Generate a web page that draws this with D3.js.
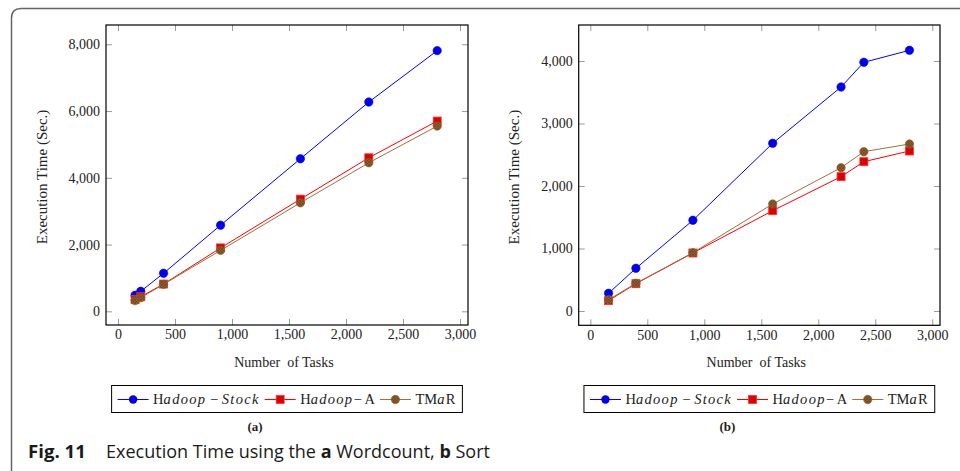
<!DOCTYPE html>
<html>
<head>
<meta charset="utf-8">
<script src="https://cdn.jsdelivr.net/npm/d3@7"></script>
<style>
  html, body { margin: 0; padding: 0; background: #fff; }
  svg { display: block; }
</style>
</head>
<body>
<svg id="chart" width="960" height="471"></svg>
<script>
// ---------------- DATA ----------------
const tickValuesX = [0, 500, 1000, 1500, 2000, 2500, 3000];
const tickValuesYA = [0, 2000, 4000, 6000, 8000];
const tickValuesYB = [0, 1000, 2000, 3000, 4000];

// (a) Wordcount
const tasksA = [150, 200, 400, 900, 1600, 2200, 2800];
const stockA = [480, 600, 1140, 2580, 4570, 6270, 7810];
const hadoopA_A = [350, 437, 817, 1900, 3360, 4600, 5700];
const tmarA = [320, 407, 808, 1826, 3250, 4450, 5550];

// (b) Sort
const tasksB = [160, 400, 900, 1600, 2200, 2400, 2800];
const stockB = [283, 683, 1451, 2683, 3584, 3979, 4171];
const hadoopA_B = [165, 437, 928, 1605, 2149, 2389, 2560];
const tmarB = [181, 443, 933, 1712, 2293, 2549, 2672];

const seriesNames = ["Hadoop-Stock", "Hadoop-A", "TMaR"];
const xLabel = "Number  of Tasks";
const yLabel = "Execution Time (Sec.)";
const panelLabels = ["(a)", "(b)"];

// ---------------- STYLE ----------------
const colors = { stock: "#0000ff", ha: "#ff0000", tmar: "#a0703c" };
const serif = "'Liberation Serif', 'DejaVu Serif', serif";

const svg = d3.select("#chart");
const defs = svg.append("defs");
const pat = defs.append("pattern").attr("id", "hatch").attr("patternUnits", "userSpaceOnUse")
  .attr("width", 3).attr("height", 3);
pat.append("rect").attr("width", 3).attr("height", 3).attr("fill", "#8e5e2e");
pat.append("path").attr("d", "M0,0L3,3M3,0L0,3").attr("stroke", "#6b4018").attr("stroke-width", 0.6);

// outer figure frame (rounded top-left corner)
svg.append("path")
  .attr("d", "M11.5,471 L11.5,18 Q11.5,8.5 21,8.5 L960,8.5")
  .attr("fill", "none").attr("stroke", "#666").attr("stroke-width", 1.5);

function drawPanel(cfg) {
  const { left, right, top, bottom, xDomain, yDomain, yTicks, tasks, stock, ha, tmar, label } = cfg;
  const x = d3.scaleLinear().domain(xDomain).range([left, right]);
  const y = d3.scaleLinear().domain(yDomain).range([bottom, top]);
  const g = svg.append("g");
  const fmt = d3.format(",");

  const styleAxis = (sel) => {
    sel.select(".domain").remove();
    sel.selectAll(".tick line").attr("stroke", "#9a9a9a").attr("stroke-width", 1);
    sel.selectAll(".tick text").attr("font-family", serif).attr("font-size", 14).attr("fill", "#222");
  };

  g.append("g").attr("transform", `translate(0,${bottom})`)
    .call(d3.axisBottom(x).tickValues(tickValuesX).tickFormat(fmt).tickSizeInner(-6).tickSizeOuter(0).tickPadding(4.5))
    .call(styleAxis);
  g.append("g").attr("transform", `translate(0,${top})`)
    .call(d3.axisTop(x).tickValues(tickValuesX).tickFormat("").tickSizeInner(-6).tickSizeOuter(0))
    .call(styleAxis);
  g.append("g").attr("transform", `translate(${left},0)`)
    .call(d3.axisLeft(y).tickValues(yTicks).tickFormat(fmt).tickSizeInner(-6).tickSizeOuter(0).tickPadding(6))
    .call(styleAxis);
  g.append("g").attr("transform", `translate(${right},0)`)
    .call(d3.axisRight(y).tickValues(yTicks).tickFormat("").tickSizeInner(-6).tickSizeOuter(0))
    .call(styleAxis);

  g.append("rect").attr("x", left).attr("y", top).attr("width", right - left).attr("height", bottom - top)
    .attr("fill", "none").attr("stroke", "#000").attr("stroke-width", 1.2);

  const line = d3.line().x(d => x(d[0])).y(d => y(d[1]));
  const mk = (vals) => tasks.map((t, i) => [t, vals[i]]);

  // Hadoop-Stock
  g.append("path").datum(mk(stock)).attr("d", line).attr("fill", "none").attr("stroke", colors.stock).attr("stroke-width", 1);
  g.selectAll(null).data(mk(stock)).enter().append("circle")
    .attr("cx", d => x(d[0])).attr("cy", d => y(d[1])).attr("r", 4.2).attr("fill", "#0000ee").attr("stroke", "#0000ff").attr("stroke-width", 0.6);
  // Hadoop-A
  g.append("path").datum(mk(ha)).attr("d", line).attr("fill", "none").attr("stroke", colors.ha).attr("stroke-width", 1);
  g.selectAll(null).data(mk(ha)).enter().append("rect")
    .attr("x", d => x(d[0]) - 4).attr("y", d => y(d[1]) - 4).attr("width", 8).attr("height", 8)
    .attr("fill", "#dd0000").attr("stroke", "#ff3333").attr("stroke-width", 0.8);
  // TMaR
  g.append("path").datum(mk(tmar)).attr("d", line).attr("fill", "none").attr("stroke", colors.tmar).attr("stroke-width", 1);
  g.selectAll(null).data(mk(tmar)).enter().append("circle")
    .attr("cx", d => x(d[0])).attr("cy", d => y(d[1])).attr("r", 4.2).attr("fill", "url(#hatch)").attr("stroke", "#8e5e2e").attr("stroke-width", 0.6);

  const cx = (left + right) / 2;
  // axis labels
  g.append("text").attr("x", cx - 3).attr("y", 367.3).attr("text-anchor", "middle")
    .attr("font-family", serif).attr("font-size", 14).attr("fill", "#222")
    .attr("xml:space", "preserve").style("white-space", "pre").text(xLabel);
  g.append("text").attr("transform", `translate(${left - 64.5},${(top + bottom) / 2 + 2}) rotate(-90)`)
    .attr("text-anchor", "middle").attr("dy", "0.35em")
    .attr("font-family", serif).attr("font-size", 15).attr("fill", "#222").text(yLabel);

  // legend
  const lg = g.append("g");
  const items = [
    { color: colors.stock, marker: "circle", parts: [["H", false], ["adoop", true], [" \u2212 ", false], ["Stock", true]] },
    { color: colors.ha, marker: "square", parts: [["H", false], ["adoop", true], ["\u2212 A", false]] },
    { color: colors.tmar, marker: "brown", parts: [["TM", false], ["a", true], ["R", false]] }
  ];
  const legY = 399.5;
  let cursor = 0;
  items.forEach((it) => {
    const ig = lg.append("g").attr("transform", `translate(${cursor},0)`);
    ig.append("line").attr("x1", 0).attr("x2", 31).attr("y1", legY).attr("y2", legY)
      .attr("stroke", it.color).attr("stroke-width", 1);
    if (it.marker === "circle") {
      ig.append("circle").attr("cx", 15.5).attr("cy", legY).attr("r", 4.2).attr("fill", "#0000ee");
    } else if (it.marker === "square") {
      ig.append("rect").attr("x", 11.5).attr("y", legY - 4).attr("width", 8).attr("height", 8)
        .attr("fill", "#dd0000").attr("stroke", "#ff3333").attr("stroke-width", 0.8);
    } else {
      ig.append("circle").attr("cx", 15.5).attr("cy", legY).attr("r", 4.2).attr("fill", "url(#hatch)")
        .attr("stroke", "#8e5e2e").attr("stroke-width", 0.6);
    }
    const t = ig.append("text").attr("x", 35.5).attr("y", legY + 4).attr("font-family", serif)
      .attr("font-size", 14.5).attr("fill", "#222").attr("xml:space", "preserve").style("white-space", "pre");
    it.parts.forEach(([s, ital]) => {
      t.append("tspan").attr("font-style", ital ? "italic" : "normal")
        .attr("letter-spacing", ital ? 1.3 : 0).text(s);
    });
    const w = t.node().getComputedTextLength();
    cursor += 35.5 + w + 5;
  });
  const totalW = cursor - 5;
  const padL = 6, padR = 7;
  const boxW = totalW + padL + padR;
  const boxX = cx - boxW / 2;
  lg.insert("rect", ":first-child").attr("x", -padL).attr("y", 385.5).attr("width", boxW).attr("height", 27)
    .attr("fill", "#fff").attr("stroke", "#000").attr("stroke-width", 1);
  lg.attr("transform", `translate(${boxX + padL},0)`);

  g.append("text").attr("x", cx - 32).attr("y", 431).attr("text-anchor", "middle")
    .attr("font-family", serif).attr("font-size", 13).attr("font-weight", "bold").attr("fill", "#222").text(label);
}

drawPanel({
  left: 106, right: 468, top: 25, bottom: 325,
  xDomain: [-105, 3070], yDomain: [-410, 8578], yTicks: tickValuesYA,
  tasks: tasksA, stock: stockA, ha: hadoopA_A, tmar: tmarA, label: panelLabels[0]
});
drawPanel({
  left: 578.7, right: 940, top: 25, bottom: 325.3,
  xDomain: [-102, 3068], yDomain: [-229, 4576], yTicks: tickValuesYB,
  tasks: tasksB, stock: stockB, ha: hadoopA_B, tmar: tmarB, label: panelLabels[1]
});

// caption
const sans = "'Open Sans', 'Noto Sans', sans-serif";
svg.append("text").attr("x", 28).attr("y", 458.3).attr("font-family", sans).attr("font-size", 18.6)
  .attr("font-weight", "bold").attr("fill", "#1a1a1a").text("Fig. 11");
const cap = svg.append("text").attr("x", 106).attr("y", 458.3).attr("font-family", sans).attr("font-size", 18)
  .attr("fill", "#1a1a1a").attr("xml:space", "preserve").style("white-space", "pre");
[["Execution Time using the ", false], ["a", true], [" Wordcount, ", false], ["b", true], [" Sort", false]]
  .forEach(([s, b]) => cap.append("tspan").attr("font-weight", b ? "bold" : "normal").text(s));
const capW = cap.node().getComputedTextLength();
if (capW > 0) cap.attr("textLength", 384).attr("lengthAdjust", "spacingAndGlyphs");
</script>
</body>
</html>
